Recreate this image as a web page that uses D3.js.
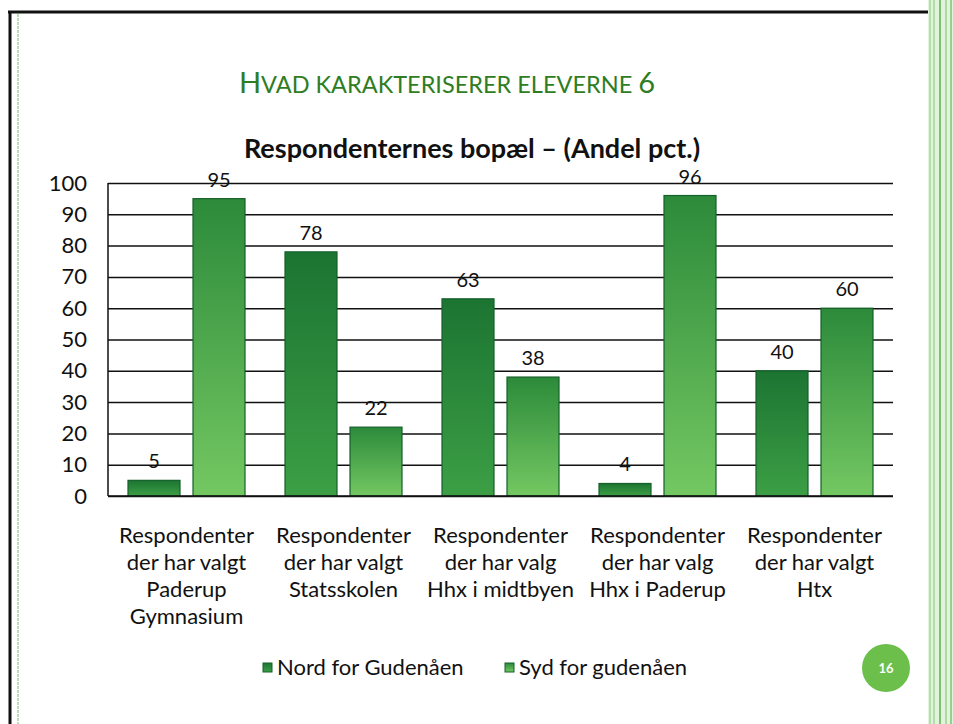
<!DOCTYPE html>
<html>
<head>
<meta charset="utf-8">
<script src="https://cdn.jsdelivr.net/npm/d3@7"></script>
<style>
  html, body { margin: 0; padding: 0; background: #fff; }
  svg { display: block; }
</style>
</head>
<body>
<div id="chart"></div>
<script>
// data
const categories = [
  ["Respondenter", "der har valgt", "Paderup", "Gymnasium"],
  ["Respondenter", "der har valgt", "Statsskolen"],
  ["Respondenter", "der har valg", "Hhx i midtbyen"],
  ["Respondenter", "der har valg", "Hhx i Paderup"],
  ["Respondenter", "der har valgt", "Htx"],
];
const seriesNames = ["Nord for Gudenåen", "Syd for gudenåen"];
const nordValues = [5, 78, 63, 4, 40];
const sydValues = [95, 22, 38, 96, 60];
const yTicks = [0, 10, 20, 30, 40, 50, 60, 70, 80, 90, 100];

const W = 953, H = 724;
const margin = { top: 183, right: 60, bottom: 228, left: 108 },
  width = W - margin.left - margin.right,
  height = H - margin.top - margin.bottom;
const FONT = "Lato, 'Open Sans', sans-serif";

const svg = d3.select("#chart").append("svg").attr("width", W).attr("height", H);

// slide frame
svg.append("line").attr("x1", 8).attr("x2", 931).attr("y1", 12).attr("y2", 12)
  .attr("stroke", "#111").attr("stroke-width", 3);
svg.append("line").attr("x1", 10).attr("x2", 10).attr("y1", 11).attr("y2", H)
  .attr("stroke", "#111").attr("stroke-width", 3);
svg.append("line").attr("x1", 18).attr("x2", 18).attr("y1", 14).attr("y2", H)
  .attr("stroke", "#8cc98a").attr("stroke-width", 1.2).attr("stroke-dasharray", "3,1");
svg.append("rect").attr("x", 928).attr("y", 0).attr("width", 25).attr("height", H)
  .attr("fill", "#e2f3dc");
[[930, "#a5d89c", 1.5], [934, "#86c67a", 1], [940, "#5fae52", 1.5], [946, "#a9dba3", 2], [951, "#80c275", 1.5]]
  .forEach(([x, c, w]) => {
    svg.append("line").attr("x1", x).attr("x2", x).attr("y1", 0).attr("y2", H)
      .attr("stroke", c).attr("stroke-width", w);
  });

// titles
const t1 = svg.append("text")
  .attr("x", 447).attr("y", 93)
  .attr("text-anchor", "middle")
  .style("font-family", FONT)
  .style("fill", "#2f7d22");
t1.append("tspan").style("font-size", "29px").text("H");
t1.append("tspan").style("font-size", "23.5px").text("VAD KARAKTERISERER ELEVERNE ");
t1.append("tspan").style("font-size", "29px").text("6");

svg.append("text")
  .attr("x", 472).attr("y", 158)
  .attr("text-anchor", "middle")
  .style("font-family", FONT)
  .style("font-weight", "bold")
  .style("font-size", "27px")
  .style("fill", "#111")
  .text("Respondenternes bopæl – (Andel pct.)");

// gradients
const defs = svg.append("defs");
const grads = [
  { id: "gNord", top: "#1c7432", bottom: "#3c9f45" },
  { id: "gSyd", top: "#2c8a3a", bottom: "#74c862" },
];
grads.forEach((g) => {
  const lg = defs.append("linearGradient").attr("id", g.id)
    .attr("x1", 0).attr("x2", 0).attr("y1", 0).attr("y2", 1);
  lg.append("stop").attr("offset", "0%").attr("stop-color", g.top);
  lg.append("stop").attr("offset", "100%").attr("stop-color", g.bottom);
});

const g = svg.append("g").attr("transform", `translate(${margin.left},${margin.top})`);

const x0 = d3.scaleBand().domain(d3.range(categories.length)).range([0, width]);
const x1 = d3.scaleBand().domain([0, 1]).range([20, x0.bandwidth() - 20]).paddingInner(0.2);
const y = d3.scaleLinear().domain([0, 100]).range([height, 0]);

// gridlines
g.append("g")
  .call(d3.axisLeft(y).tickValues(yTicks).tickSize(-width).tickFormat(""))
  .call((a) => a.select(".domain").remove())
  .selectAll("line").attr("stroke", "#111").attr("stroke-width", 1.5);

// y labels
g.append("g")
  .call(d3.axisLeft(y).tickValues(yTicks).tickSize(0).tickPadding(21))
  .call((a) => a.select(".domain").remove())
  .selectAll("text")
  .style("font-family", FONT)
  .style("font-size", "22px")
  .style("fill", "#111");

// left axis line
g.append("line").attr("x1", 0).attr("x2", 0).attr("y1", 0).attr("y2", height)
  .attr("stroke", "#111").attr("stroke-width", 1.5);

const rows = categories.map((c, i) => [nordValues[i], sydValues[i]]);

const groups = g.selectAll(".grp").data(rows).enter().append("g")
  .attr("class", "grp")
  .attr("transform", (d, i) => `translate(${x0(i)},0)`);

groups.selectAll("rect").data((d) => d).enter().append("rect")
  .attr("x", (d, j) => x1(j))
  .attr("y", (d) => y(d))
  .attr("width", x1.bandwidth())
  .attr("height", (d) => height - y(d))
  .attr("fill", (d, j) => `url(#${grads[j].id})`)
  .attr("stroke", "#15602a")
  .attr("stroke-width", 1.2);

groups.selectAll(".val").data((d) => d).enter().append("text")
  .attr("class", "val")
  .attr("x", (d, j) => x1(j) + x1.bandwidth() / 2)
  .attr("y", (d) => y(d) - 12)
  .attr("text-anchor", "middle")
  .style("font-family", FONT)
  .style("font-size", "20px")
  .style("fill", "#111")
  .text((d) => d);

// x axis line
g.append("line").attr("x1", 0).attr("x2", width).attr("y1", height).attr("y2", height)
  .attr("stroke", "#111").attr("stroke-width", 1.5);

// category labels
categories.forEach((lines, i) => {
  const t = g.append("text")
    .attr("text-anchor", "middle")
    .style("font-family", FONT)
    .style("font-size", "22px")
    .style("fill", "#111");
  lines.forEach((l, k) => {
    t.append("tspan")
      .attr("x", x0(i) + x0.bandwidth() / 2)
      .attr("y", height + 47 + k * 27)
      .text(l);
  });
});

// legend
const legendX = [263, 505];
seriesNames.forEach((name, j) => {
  const lg = svg.append("g").attr("transform", `translate(${legendX[j]},663)`);
  lg.append("rect").attr("width", 9).attr("height", 9)
    .attr("fill", `url(#${grads[j].id})`).attr("stroke", "#15602a");
  lg.append("text").attr("x", 14).attr("y", 12)
    .style("font-family", FONT)
    .style("font-size", "22px")
    .style("fill", "#111")
    .text(name);
});

// page number badge
svg.append("circle").attr("cx", 886).attr("cy", 668).attr("r", 24).attr("fill", "#6bbf4a");
svg.append("text").attr("x", 886).attr("y", 673).attr("text-anchor", "middle")
  .style("font-family", FONT).style("font-weight", "bold")
  .style("font-size", "13px").style("fill", "#fff").text("16");
</script>
</body>
</html>
